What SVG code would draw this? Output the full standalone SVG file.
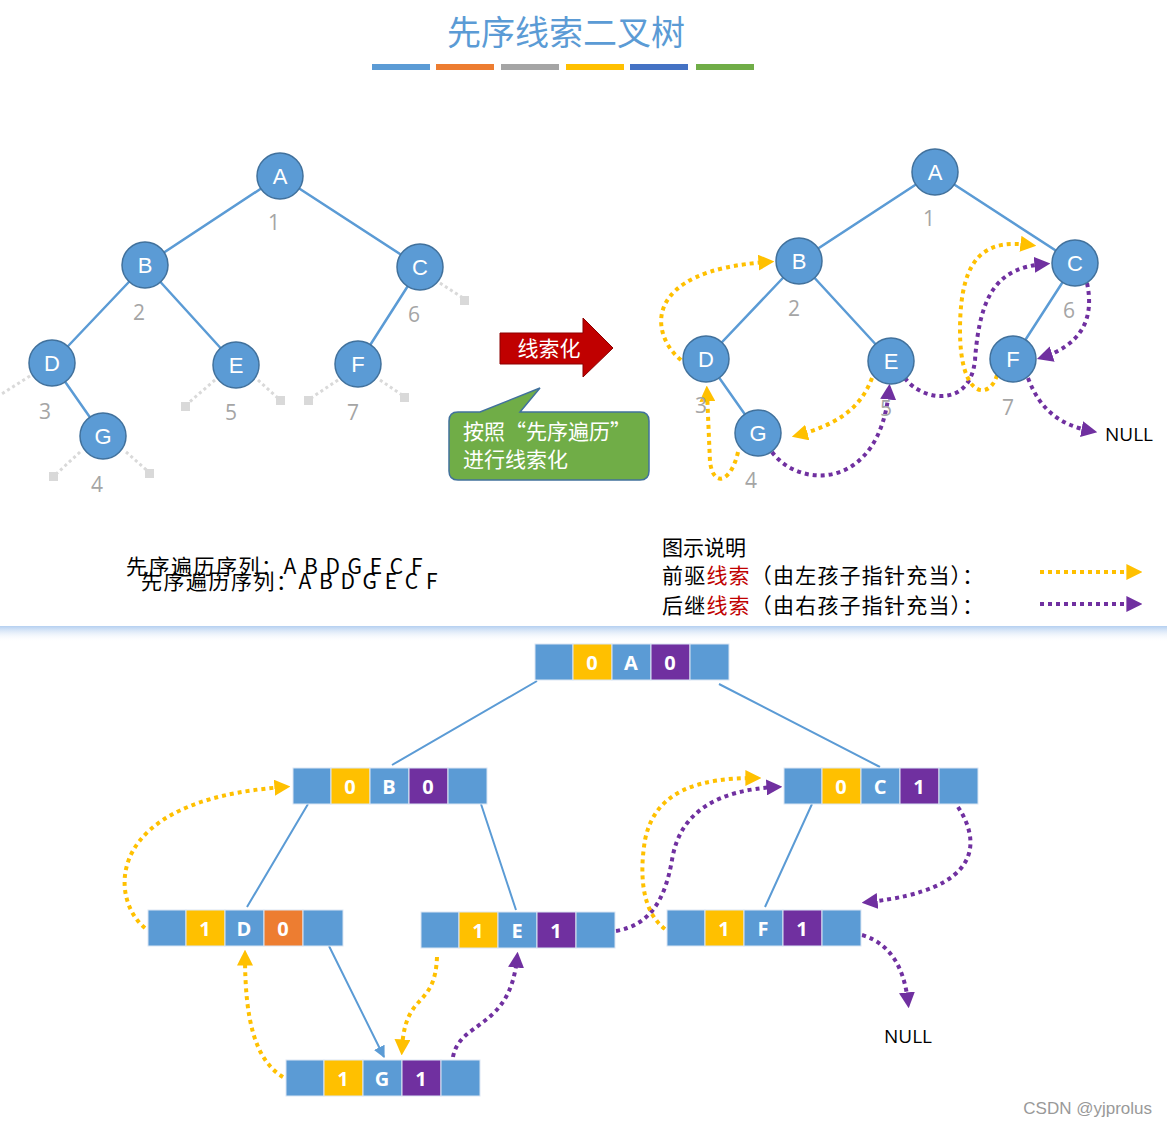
<svg xmlns="http://www.w3.org/2000/svg" width="1167" height="1127" viewBox="0 0 1167 1127">
<defs>
<style>
.n circle{fill:#5b9bd5;stroke:#41719c;stroke-width:1.5}
.n text{fill:#fff;font:22px "Liberation Sans","Noto Sans",sans-serif;text-anchor:middle}
.num{fill:#a5a5a5;font:21px "Open Sans","Liberation Sans",sans-serif;text-anchor:middle}
.e{stroke:#5b9bd5;stroke-width:2.5;fill:none}
.stub{stroke:#d9d9d9;stroke-width:3;stroke-dasharray:3 3;fill:none}
.sq{fill:#d9d9d9}
.y{stroke:#ffc000;stroke-width:4;stroke-dasharray:4 4;fill:none;marker-end:url(#my)}
.p{stroke:#7030a0;stroke-width:4;stroke-dasharray:4 4;fill:none;marker-end:url(#mp)}
.t{stroke:#5b9bd5;stroke-width:2;fill:none;marker-end:url(#mb)}
.c rect{stroke:#dbe6f3;stroke-width:1}
.c text{fill:#fff;font:bold 20px "Open Sans","Liberation Sans",sans-serif;text-anchor:middle}
.cn{font:21px "Noto Sans CJK SC",sans-serif;fill:#000}
</style>
<marker id="my" viewBox="0 0 10 10" refX="6" refY="5" markerWidth="4" markerHeight="4" orient="auto"><path d="M0,0L10,5L0,10z" fill="#ffc000"/></marker>
<marker id="mp" viewBox="0 0 10 10" refX="6" refY="5" markerWidth="4" markerHeight="4" orient="auto"><path d="M0,0L10,5L0,10z" fill="#7030a0"/></marker>
<marker id="mb" viewBox="0 0 10 10" refX="9" refY="5" markerWidth="6" markerHeight="6" orient="auto"><path d="M0,0L10,5L0,10z" fill="#5b9bd5"/></marker>
<linearGradient id="sep" x1="0" y1="0" x2="0" y2="1"><stop offset="0" stop-color="#b4cff0"/><stop offset="1" stop-color="#fff" stop-opacity="0"/></linearGradient>
</defs>
<rect width="1167" height="1127" fill="#fff"/>
<g id="title">
<text x="566" y="45" text-anchor="middle" font-family="Noto Sans CJK SC,sans-serif" font-size="34" fill="#5b9bd5">先序线索二叉树</text>
<rect x="372" y="64" width="58" height="6" fill="#5b9bd5"/><rect x="436" y="64" width="58" height="6" fill="#ed7d31"/><rect x="501" y="64" width="58" height="6" fill="#a5a5a5"/><rect x="566" y="64" width="58" height="6" fill="#ffc000"/><rect x="630" y="64" width="58" height="6" fill="#4472c4"/><rect x="696" y="64" width="58" height="6" fill="#70ad47"/>
</g>
<g id="connectors">
<path class="e" d="M280,176L145,265M280,176L420,267M145,265L52,363M145,265L236,365M420,267L358,364M52,363L103,436"/>
<path class="stub" d="M440,283L463,298M30,376L0,395M215,380L186,405M258,380L280,400M338,380L308,400M380,380L405,397M80,452L54,476M126,452L150,473"/>
<rect class="sq" x="460" y="296" width="9" height="9"/><rect class="sq" x="181" y="402" width="9" height="9"/><rect class="sq" x="276" y="396" width="9" height="9"/><rect class="sq" x="304" y="396" width="9" height="9"/><rect class="sq" x="400" y="393" width="9" height="9"/><rect class="sq" x="49" y="472" width="9" height="9"/><rect class="sq" x="145" y="469" width="9" height="9"/>
<path class="e" d="M935,172L799,261M935,172L1075,263M799,261L706,359M799,261L891,361M1075,263L1013,359M706,359L758,433"/>
<path class="y" d="M681,360C650,335 640,270 768,262"/>
<path class="y" d="M738,452C732,480 714,490 710,462L707,392"/>
<path class="y" d="M872,378C860,410 835,425 798,435"/>
<path class="p" d="M772,452C800,490 880,490 889,390"/>
<path class="p" d="M905,378C920,400 970,410 975,360C980,290 1000,268 1044,264"/>
<path class="y" d="M997,375C990,400 960,400 960,330C960,250 990,240 1030,245"/>
<path class="p" d="M1087,283C1095,320 1080,345 1043,357"/>
<path class="p" d="M1028,378C1040,410 1060,425 1091,431"/>
<path class="t" d="M537,681L392,765M719,684L880,767M308,804L247,907M481,804L516,910M812,804L765,907M329,946L384,1057"/>
<path class="y" d="M145,928C110,900 100,800 284,787"/>
<path class="y" d="M283,1077C255,1060 245,1020 245,956"/>
<path class="y" d="M437,957C435,1010 405,990 402,1049"/>
<path class="p" d="M453,1057C460,1020 510,1030 517,958"/>
<path class="p" d="M616,931C650,925 665,900 672,860C680,810 720,790 776,787"/>
<path class="y" d="M665,929C640,910 640,870 645,840C655,790 700,778 755,778"/>
<path class="p" d="M958,807C980,840 985,890 868,902"/>
<path class="p" d="M862,935C895,945 905,975 908,1002"/>
</g>
<g id="left-tree">
<g class="n" id="lA"><circle cx="280" cy="176" r="23"/><text x="280" y="184">A</text></g>
<g class="n" id="lB"><circle cx="145" cy="265" r="23"/><text x="145" y="273">B</text></g>
<g class="n" id="lC"><circle cx="420" cy="267" r="23"/><text x="420" y="275">C</text></g>
<g class="n" id="lD"><circle cx="52" cy="363" r="23"/><text x="52" y="371">D</text></g>
<g class="n" id="lE"><circle cx="236" cy="365" r="23"/><text x="236" y="373">E</text></g>
<g class="n" id="lF"><circle cx="358" cy="364" r="23"/><text x="358" y="372">F</text></g>
<g class="n" id="lG"><circle cx="103" cy="436" r="23"/><text x="103" y="444">G</text></g>
<text class="num" x="274" y="230">1</text><text class="num" x="139" y="320">2</text><text class="num" x="414" y="322">6</text><text class="num" x="45" y="419">3</text><text class="num" x="231" y="420">5</text><text class="num" x="353" y="420">7</text><text class="num" x="97" y="492">4</text>
</g>
<g id="right-tree">
<g class="n" id="rA"><circle cx="935" cy="172" r="23"/><text x="935" y="180">A</text></g>
<g class="n" id="rB"><circle cx="799" cy="261" r="23"/><text x="799" y="269">B</text></g>
<g class="n" id="rC"><circle cx="1075" cy="263" r="23"/><text x="1075" y="271">C</text></g>
<g class="n" id="rD"><circle cx="706" cy="359" r="23"/><text x="706" y="367">D</text></g>
<g class="n" id="rE"><circle cx="891" cy="361" r="23"/><text x="891" y="369">E</text></g>
<g class="n" id="rF"><circle cx="1013" cy="359" r="23"/><text x="1013" y="367">F</text></g>
<g class="n" id="rG"><circle cx="758" cy="433" r="23"/><text x="758" y="441">G</text></g>
<text class="num" x="929" y="226">1</text><text class="num" x="794" y="316">2</text><text class="num" x="1069" y="318">6</text><text class="num" x="701" y="413">3</text><text class="num" x="886" y="416">5</text><text class="num" x="1008" y="415">7</text><text class="num" x="751" y="488">4</text>
<text x="1105" y="441" font-family="Open Sans,Liberation Sans,sans-serif" font-size="19" fill="#000">NULL</text>
</g>
<g id="arrow-label">
<polygon points="500,333 583,333 583,318 613,348 583,377 583,364 500,364" fill="#c00000" stroke="#8b0000" stroke-width="1"/>
<text x="549" y="356" text-anchor="middle" class="cn" style="fill:#fff">线索化</text>
</g>
<g id="callout">
<path d="M458,412L480,412L540,388L520,412L640,412Q649,412 649,421L649,471Q649,480 640,480L458,480Q449,480 449,471L449,421Q449,412 458,412Z" fill="#70ad47" stroke="#41719c" stroke-width="1.5"/>
<text x="463" y="439" class="cn" style="fill:#fff">按照“先序遍历”</text>
<text x="463" y="467" class="cn" style="fill:#fff">进行线索化</text>
</g>
<g id="sequence">
<text x="126" y="574" class="cn" font-size="22" letter-spacing="1.5">先序遍历序列：A B D G E C F</text>
<text x="141" y="589" class="cn" font-size="22" letter-spacing="1.5">先序遍历序列：A B D G E C F</text>
</g>
<g id="legend">
<text x="662" y="555" class="cn">图示说明</text>
<text x="662" y="583" class="cn" letter-spacing="1.2">前驱<tspan fill="#c00000">线索</tspan>（由左孩子指针充当）：</text>
<text x="662" y="613" class="cn" letter-spacing="1.2">后继<tspan fill="#c00000">线索</tspan>（由右孩子指针充当）：</text>
<path class="y" d="M1040,572L1136,572"/>
<path class="p" d="M1040,604L1136,604"/>
</g>
<rect x="0" y="626" width="1167" height="16" fill="url(#sep)"/>
<g id="bA" class="c"><rect x="535" y="644" width="38" height="36" fill="#5b9bd5"/><rect x="573" y="644" width="39" height="36" fill="#ffc000"/><rect x="612" y="644" width="39" height="36" fill="#5b9bd5"/><rect x="651" y="644" width="39" height="36" fill="#7030a0"/><rect x="690" y="644" width="39" height="36" fill="#5b9bd5"/><text x="592" y="670">0</text><text x="631" y="670">A</text><text x="670" y="670">0</text></g>
<g id="bB" class="c"><rect x="293" y="768" width="38" height="36" fill="#5b9bd5"/><rect x="331" y="768" width="39" height="36" fill="#ffc000"/><rect x="370" y="768" width="39" height="36" fill="#5b9bd5"/><rect x="409" y="768" width="39" height="36" fill="#7030a0"/><rect x="448" y="768" width="39" height="36" fill="#5b9bd5"/><text x="350" y="794">0</text><text x="389" y="794">B</text><text x="428" y="794">0</text></g>
<g id="bC" class="c"><rect x="784" y="768" width="38" height="36" fill="#5b9bd5"/><rect x="822" y="768" width="39" height="36" fill="#ffc000"/><rect x="861" y="768" width="39" height="36" fill="#5b9bd5"/><rect x="900" y="768" width="39" height="36" fill="#7030a0"/><rect x="939" y="768" width="39" height="36" fill="#5b9bd5"/><text x="841" y="794">0</text><text x="880" y="794">C</text><text x="919" y="794">1</text></g>
<g id="bD" class="c"><rect x="148" y="910" width="38" height="36" fill="#5b9bd5"/><rect x="186" y="910" width="39" height="36" fill="#ffc000"/><rect x="225" y="910" width="39" height="36" fill="#5b9bd5"/><rect x="264" y="910" width="39" height="36" fill="#ed7d31"/><rect x="303" y="910" width="40" height="36" fill="#5b9bd5"/><text x="205" y="936">1</text><text x="244" y="936">D</text><text x="283" y="936">0</text></g>
<g id="bE" class="c"><rect x="421" y="912" width="38" height="36" fill="#5b9bd5"/><rect x="459" y="912" width="39" height="36" fill="#ffc000"/><rect x="498" y="912" width="39" height="36" fill="#5b9bd5"/><rect x="537" y="912" width="39" height="36" fill="#7030a0"/><rect x="576" y="912" width="39" height="36" fill="#5b9bd5"/><text x="478" y="938">1</text><text x="517" y="938">E</text><text x="556" y="938">1</text></g>
<g id="bF" class="c"><rect x="667" y="910" width="38" height="36" fill="#5b9bd5"/><rect x="705" y="910" width="39" height="36" fill="#ffc000"/><rect x="744" y="910" width="39" height="36" fill="#5b9bd5"/><rect x="783" y="910" width="39" height="36" fill="#7030a0"/><rect x="822" y="910" width="39" height="36" fill="#5b9bd5"/><text x="724" y="936">1</text><text x="763" y="936">F</text><text x="802" y="936">1</text></g>
<g id="bG" class="c"><rect x="286" y="1060" width="38" height="36" fill="#5b9bd5"/><rect x="324" y="1060" width="39" height="36" fill="#ffc000"/><rect x="363" y="1060" width="39" height="36" fill="#5b9bd5"/><rect x="402" y="1060" width="39" height="36" fill="#7030a0"/><rect x="441" y="1060" width="39" height="36" fill="#5b9bd5"/><text x="343" y="1086">1</text><text x="382" y="1086">G</text><text x="421" y="1086">1</text></g>
<text x="908" y="1043" text-anchor="middle" font-family="Open Sans,Liberation Sans,sans-serif" font-size="19" fill="#000">NULL</text>
<text x="1152" y="1114" text-anchor="end" font-family="Liberation Sans,sans-serif" font-size="17" fill="#999">CSDN @yjprolus</text>
</svg>
